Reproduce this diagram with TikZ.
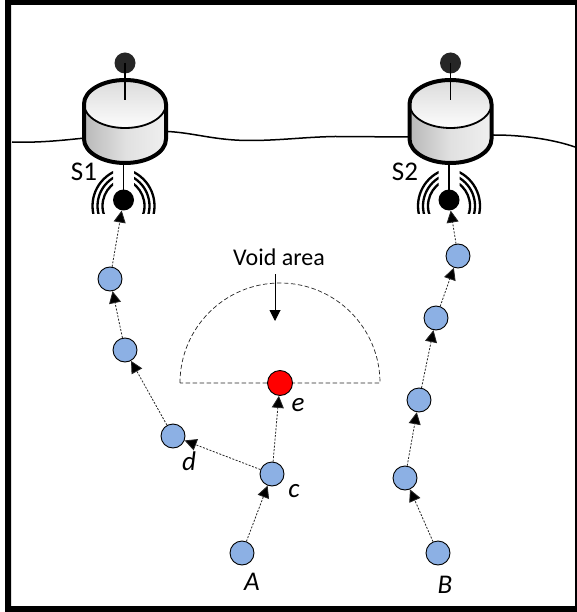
\documentclass[tikz,border=0pt]{standalone}
\usepackage{fontspec}
\setmainfont{Carlito}
\usetikzlibrary{arrows.meta}
\tikzset{
  x=1pt,y=-1pt,
  sensor/.style={circle,draw=black,line width=0.9pt,fill=sensorblue,minimum size=24pt,inner sep=0pt},
  sink/.style={circle,fill=black,minimum size=21pt,inner sep=0pt},
  buoy/.style={circle,fill=buoydark,minimum size=21pt,inner sep=0pt},
  hop/.style={line width=0.8pt,dash pattern=on 2pt off 1.5pt,draw=black!85,-{Triangle[length=12pt,width=12pt,fill=black]},shorten >=0pt},
  wave/.style={line width=2.3pt,black},
  voidnode/.style={circle,draw=black,line width=0.9pt,fill=red,minimum size=25pt,inner sep=0pt},
  lab/.style={font=\fontsize{27}{29}\selectfont,inner sep=0pt},
  ital/.style={font=\fontsize{27}{29}\selectfont\itshape,inner sep=0pt},
}
\definecolor{sensorblue}{HTML}{8CB0E4}
\definecolor{buoydark}{HTML}{262626}
\newcommand{\gateway}[3]{%
  % #1 name prefix, #2 x of body, #3 x of sink
  \shade[left color=black!28,right color=black!6,middle color=black!12]
    (#2-41,104) -- (#2-41,139) arc[start angle=180,end angle=360,x radius=41,y radius=-24] -- (#2+41,104) -- cycle;
  \shade[top color=black!14,bottom color=black!1]
    (#2,104) ellipse[x radius=41,y radius=24];
  \draw[line width=1.8pt] (#2-41,104) arc[start angle=180,end angle=360,x radius=41,y radius=-24];
  \draw[line width=4pt] (#2-41,139) -- (#2-41,104) arc[start angle=180,end angle=0,x radius=41,y radius=-24] -- (#2+41,139)
    arc[start angle=0,end angle=-180,x radius=41,y radius=-24] -- cycle;
  \node[buoy] (#1top) at (#2,63) {};
  \draw[line width=1.5pt] (#1top.center) -- (#2,100);
  \node[sink] (#1) at (#3,200) {};
  \draw[line width=1.8pt] (#3,163) -- (#1.center);
  \foreach \sx/\ex/\cx in {-35/-10.5/7,10.5/35/-7}{
    \begin{scope}
      \clip (#3+\sx,170) rectangle (#3+\ex,213.5);
      \foreach \r in {28,33,38}{
        \draw[wave] (#3+\cx,206) circle[radius=\r];
      }
    \end{scope}
  }
}
\begin{document}
\begin{tikzpicture}
\useasboundingbox (0,0) rectangle (577,612);
\fill[white] (0,0) rectangle (577,612);
% water surface
\draw[line width=1.5pt] (12,142) .. controls (40,143) and (65,140) .. (85,138)
  .. controls (110,134) and (140,131) .. (168,131.5)
  .. controls (195,133) and (215,140.5) .. (250,140.5)
  .. controls (280,140.5) and (305,137) .. (335,136.5)
  .. controls (360,136.5) and (390,137) .. (410,137)
  .. controls (440,136) and (480,135) .. (494,135)
  .. controls (525,135) and (555,140) .. (575,147);
\gateway{sa}{125}{123.5}
\gateway{sb}{450.5}{449}
\node[lab] (ls1) at (84,172) {S1};
\node[lab] (ls2) at (405,172) {S2};
% void area
\coordinate (vl) at (180,383);
\draw[line width=0.7pt,dash pattern=on 4.5pt off 2.5pt,black!85] (vl) arc[start angle=180,end angle=0,radius=100,y radius=-100] -- cycle;
\node[voidnode] (e) at (280,383) {};
\node[lab,font=\fontsize{24}{26}\selectfont] (va) at (279,257) {Void area};
\coordinate (vs) at (275,274);
\coordinate (ve) at (275,321);
\draw[line width=1pt,-{Triangle[length=11pt,width=11pt]}] (vs) -- (ve);
% sensors
\node[sensor] (A) at (242,553) {};
\node[sensor] (c) at (272,474) {};
\node[sensor] (d) at (173,436) {};
\node[sensor] (n1) at (125,350) {};
\node[sensor] (n2) at (110,279) {};
\node[sensor] (B) at (438,553) {};
\node[sensor] (m1) at (405,478) {};
\node[sensor] (m2) at (419,400) {};
\node[sensor] (m3) at (436,318) {};
\node[sensor] (m4) at (458,256) {};
\draw[hop] (A) -- (c);
\draw[hop] (c) -- (e);
\draw[hop] (c) -- (d);
\draw[hop] (d) -- (n1);
\draw[hop] (n1) -- (n2);
\draw[hop] (n2) -- (sa);
\draw[hop] (B) -- (m1);
\draw[hop] (m1) -- (m2);
\draw[hop] (m2) -- (m3);
\draw[hop] (m3) -- (m4);
\draw[hop] (m4) -- (sb);
% labels
\node[ital] (le) at (298,405) {e};
\node[ital] (lc) at (294,491) {c};
\node[ital] (ld) at (189,461) {d};
\node[ital] (lA) at (252,582) {A};
\node[ital] (lB) at (445,585) {B};
% frame
\fill[black,even odd rule] (5,0) rectangle (577,612) (11,5) rectangle (575,606);
\end{tikzpicture}
\end{document}
